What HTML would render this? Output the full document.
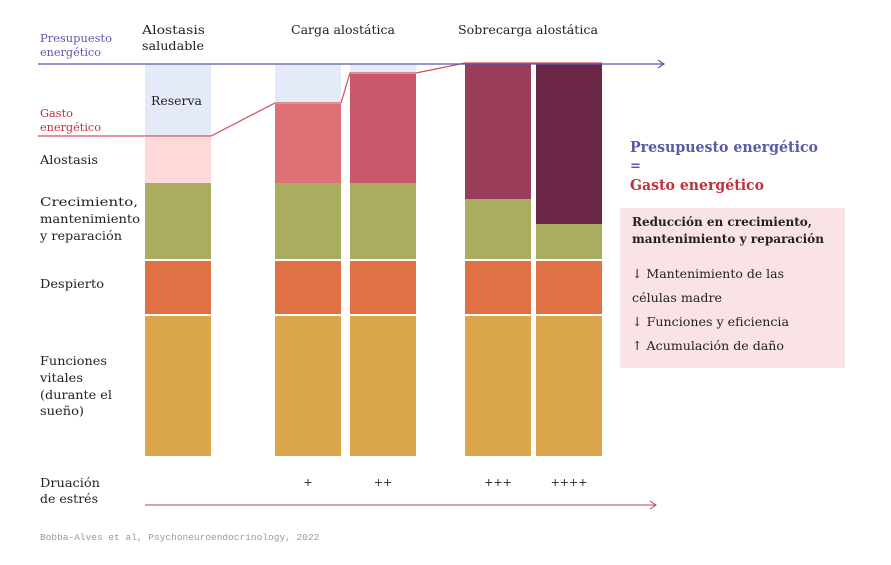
<!DOCTYPE html>
<html><head><meta charset="utf-8"><style>
body{margin:0;background:#fff}
svg text{font-family:"DejaVu Serif","Liberation Serif",serif}
</style></head><body>
<svg width="891" height="560" viewBox="0 0 891 560">
<g id="bars"></g>
<g id="lines"></g>
<g font-size="12.5" fill="#222" lengthAdjust="spacingAndGlyphs">
<text x="142" y="34" textLength="63" lengthAdjust="spacingAndGlyphs">Alostasis</text>
<text x="142" y="50" textLength="62" lengthAdjust="spacingAndGlyphs">saludable</text>
<text x="291" y="34" textLength="104" lengthAdjust="spacingAndGlyphs">Carga alostática</text>
<text x="458" y="34" textLength="140" lengthAdjust="spacingAndGlyphs">Sobrecarga alostática</text>
<text x="40" y="42" fill="#5a5aa8" font-size="11.5" textLength="72" lengthAdjust="spacingAndGlyphs">Presupuesto</text>
<text x="40" y="56" fill="#5a5aa8" font-size="11.5" textLength="61" lengthAdjust="spacingAndGlyphs">energético</text>
<text x="40" y="117" fill="#c0303a" font-size="11.5" textLength="33" lengthAdjust="spacingAndGlyphs">Gasto</text>
<text x="40" y="131" fill="#c0303a" font-size="11.5" textLength="61" lengthAdjust="spacingAndGlyphs">energético</text>
<text x="151" y="105" textLength="51" lengthAdjust="spacingAndGlyphs">Reserva</text>
<text x="40" y="164" textLength="58" lengthAdjust="spacingAndGlyphs">Alostasis</text>
<text x="40" y="206" textLength="98" lengthAdjust="spacingAndGlyphs">Crecimiento,</text>
<text x="40" y="223" textLength="100" lengthAdjust="spacingAndGlyphs">mantenimiento</text>
<text x="40" y="240" textLength="82" lengthAdjust="spacingAndGlyphs">y reparación</text>
<text x="40" y="288" textLength="64" lengthAdjust="spacingAndGlyphs">Despierto</text>
<text x="40" y="365" textLength="67" lengthAdjust="spacingAndGlyphs">Funciones</text>
<text x="40" y="382" textLength="43" lengthAdjust="spacingAndGlyphs">vitales</text>
<text x="40" y="399" textLength="72" lengthAdjust="spacingAndGlyphs">(durante el</text>
<text x="40" y="415" textLength="44" lengthAdjust="spacingAndGlyphs">sueño)</text>
<text x="40" y="487" textLength="60" lengthAdjust="spacingAndGlyphs">Druación</text>
<text x="40" y="503" textLength="58" lengthAdjust="spacingAndGlyphs">de estrés</text>
</g>
<g id="stress" font-size="11" fill="#222" text-anchor="middle"></g>
<line x1="145" y1="505" x2="655" y2="505" stroke="#b04858" stroke-width="1"/>
<path d="M650 501 L656 505 L650 509" fill="none" stroke="#b04858"/>
<text x="630" y="152" font-size="15" font-weight="bold" fill="#5a5aa8" textLength="188" lengthAdjust="spacingAndGlyphs">Presupuesto energético</text>
<text x="630" y="170" font-size="13" font-weight="bold" fill="#5a5aa8">=</text>
<text x="630" y="190" font-size="15" font-weight="bold" fill="#c0303a" textLength="134" lengthAdjust="spacingAndGlyphs">Gasto energético</text>
<rect x="620" y="208" width="225" height="160" fill="#f9e3e4"/>
<g font-size="12.5" fill="#222">
<text x="632" y="226" font-weight="bold" textLength="180" lengthAdjust="spacingAndGlyphs">Reducción en crecimiento,</text>
<text x="632" y="243" font-weight="bold" textLength="192" lengthAdjust="spacingAndGlyphs">mantenimiento y reparación</text>
<text x="632" y="278" textLength="152" lengthAdjust="spacingAndGlyphs">↓ Mantenimiento de las</text>
<text x="632" y="302" textLength="90" lengthAdjust="spacingAndGlyphs">células madre</text>
<text x="632" y="326" textLength="157" lengthAdjust="spacingAndGlyphs">↓ Funciones y eficiencia</text>
<text x="632" y="350" textLength="152" lengthAdjust="spacingAndGlyphs">↑ Acumulación de daño</text>
</g>
<text x="40" y="540" font-size="9.5" fill="#999" style="font-family:'Liberation Mono',monospace">Bobba-Alves et al, Psychoneuroendocrinology, 2022</text>
</svg>
<script>
const stressLabels = ["", "+", "++", "+++", "++++"];
const vital = [142, 142, 142, 142, 142];
const awake = [55, 55, 55, 55, 55];
const growth = [78, 78, 78, 62, 37];
const load = [46, 79, 109, 135, 160];
const budget = [394, 394, 394, 394, 394];
const colX = [145, 275, 350, 465, 536];
const colW = 66;
const baseY = 458;
function y(v){return baseY - v;}
const loadColors = ["#fdd9da", "#dc7074", "#c8586a", "#9a3d59", "#6b2646"];
const NS = "http://www.w3.org/2000/svg";
const bars = document.getElementById('bars');
function rect(x, y0, w, h, fill, name){
  const r = document.createElementNS(NS, 'rect');
  r.setAttribute('x', x); r.setAttribute('y', y0); r.setAttribute('width', w); r.setAttribute('height', Math.max(0, h)); r.setAttribute('fill', fill);
  
  
  bars.appendChild(r);
}
const expenseTops = [];
for (let i = 0; i < 5; i++) {
  let acc = 0;
  const segs = [[vital[i], "#dba54c", "vital"], [awake[i], "#e07145", "awake"], [growth[i], "#aaad60", "growth"], [load[i], loadColors[i], "allostatic-load"]];
  segs.forEach((s, k) => { const top = Math.min(acc + s[0], budget[i]); rect(colX[i], y(top), colW, top - acc - (k < 3 ? 2 : 0), s[1], 'bar-' + s[2] + '-' + i); acc += s[0]; });
  expenseTops.push(y(Math.min(acc, budget[i])));
  const res = budget[i] - acc;
  if (res > 0) rect(colX[i], y(budget[i]), colW, res - 1, "#e4eaf7", 'bar-reserve-' + i);
  const t = document.createElementNS(NS, 'text');
  t.setAttribute('x', colX[i] + colW / 2); t.setAttribute('y', 486); t.textContent = stressLabels[i];
  
  
  document.getElementById('stress').appendChild(t);
}
const lines = document.getElementById('lines');
let d = 'M38 ' + (expenseTops[0] - 1);
for (let i = 0; i < 5; i++) { const yy = expenseTops[i] - 1; d += ' L' + colX[i] + ' ' + yy + ' L' + (colX[i] + colW) + ' ' + yy; }
const p = document.createElementNS(NS, 'path');
p.setAttribute('d', d); p.setAttribute('fill', 'none'); p.setAttribute('stroke', '#d0505a'); p.setAttribute('stroke-width', '1.2');


lines.appendChild(p);
const by = y(budget[0]);
const bl = document.createElementNS(NS, 'path');
bl.setAttribute('d', 'M38 ' + by + ' L664 ' + by + ' M658 ' + (by - 4) + ' L664 ' + by + ' L658 ' + (by + 4));
bl.setAttribute('fill', 'none'); bl.setAttribute('stroke', '#5a5aa8'); bl.setAttribute('stroke-width', '1.2');


lines.appendChild(bl);
</script>
</body></html>
